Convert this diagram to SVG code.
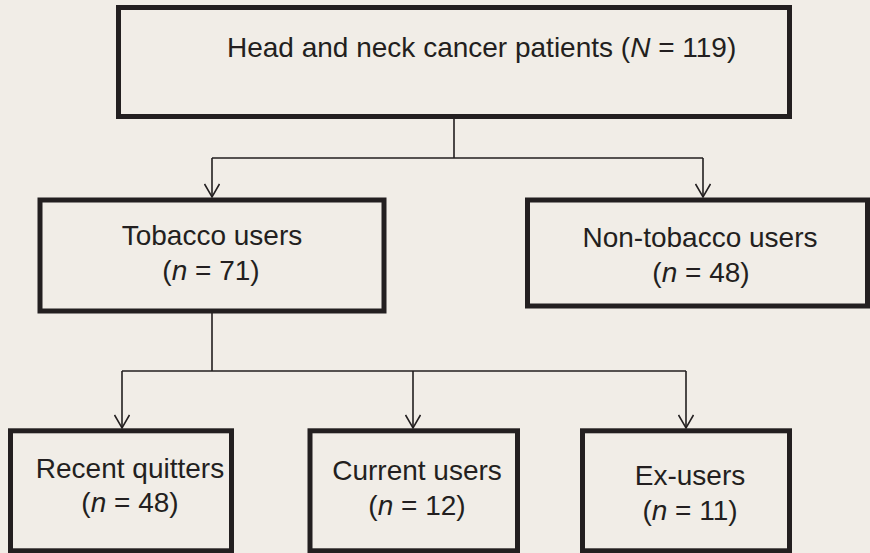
<svg xmlns="http://www.w3.org/2000/svg" width="870" height="553" viewBox="0 0 870 553">
<style>
.box{fill:none;stroke:#231f20;stroke-width:5}
.t{font-family:"Liberation Sans",Arial,sans-serif;font-size:28px;fill:#231f20}
.c{text-anchor:middle}
.ln{fill:none;stroke:#231f20;stroke-width:1.6}
</style>
<defs>
<marker id="arr" markerUnits="userSpaceOnUse" markerWidth="20" markerHeight="16" viewBox="0 0 20 16" refX="14" refY="8" orient="auto">
<path d="M1,0.5 L14,8 L1,15.5" fill="none" stroke="#231f20" stroke-width="1.6"/>
</marker>
</defs>
<rect width="870" height="553" fill="#f1ede7"/>
<g id="connectors">
<path class="ln" d="M454,119 V158 M212,158 H703"/>
<path class="ln" d="M212,158 V197" marker-end="url(#arr)"/>
<path class="ln" d="M703,158 V197" marker-end="url(#arr)"/>
<path class="ln" d="M212,313 V371 M122,371 H686"/>
<path class="ln" d="M122,371 V428" marker-end="url(#arr)"/>
<path class="ln" d="M413,371 V428" marker-end="url(#arr)"/>
<path class="ln" d="M686,371 V428" marker-end="url(#arr)"/>
</g>
<g id="all-patients">
<rect class="box" x="118.5" y="7.5" width="671" height="109"/>
<text class="t" x="227" y="57">Head and neck cancer patients (<tspan font-style="italic">N</tspan> = 119)</text>
</g>
<g id="tobacco-users">
<rect class="box" x="40" y="200" width="344" height="111"/>
<text class="t c" x="212" y="245">Tobacco users</text>
<text class="t c" x="211" y="280">(<tspan font-style="italic">n</tspan> = 71)</text>
</g>
<g id="non-tobacco-users">
<rect class="box" x="527.5" y="200" width="340" height="106"/>
<text class="t c" x="700" y="247">Non-tobacco users</text>
<text class="t c" x="701" y="282">(<tspan font-style="italic">n</tspan> = 48)</text>
</g>
<g id="recent-quitters">
<rect class="box" x="10.5" y="430.8" width="221" height="120"/>
<text class="t c" x="130" y="478">Recent quitters</text>
<text class="t c" x="130" y="512">(<tspan font-style="italic">n</tspan> = 48)</text>
</g>
<g id="current-users">
<rect class="box" x="310" y="430.8" width="207.5" height="120"/>
<text class="t c" x="417" y="480">Current users</text>
<text class="t c" x="417" y="515">(<tspan font-style="italic">n</tspan> = 12)</text>
</g>
<g id="ex-users">
<rect class="box" x="582.5" y="430.8" width="207" height="120"/>
<text class="t c" x="690" y="485">Ex-users</text>
<text class="t c" x="690" y="520">(<tspan font-style="italic">n</tspan> = 11)</text>
</g>
</svg>
